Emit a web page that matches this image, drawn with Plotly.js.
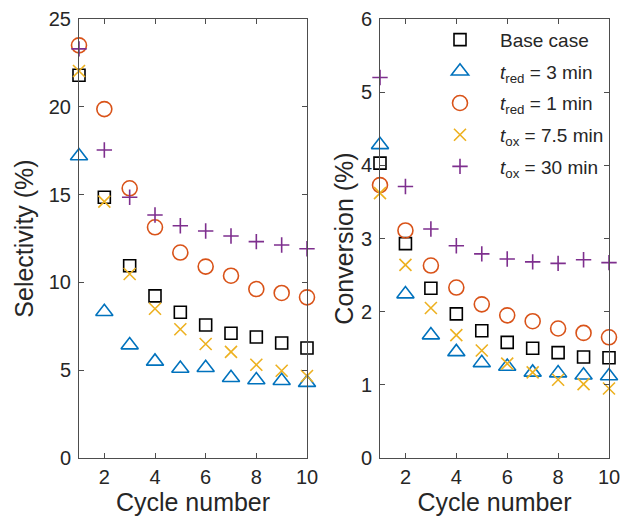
<!DOCTYPE html>
<html><head><meta charset="utf-8">
<script src="https://cdn.plot.ly/plotly-3.0.1.min.js"></script>
<style>html,body{margin:0;padding:0;background:#fff}#chart{width:622px;height:519px}</style>
</head><body><div id="chart"></div>
<script>
const cycles = [1,2,3,4,5,6,7,8,9,10];
const seriesNames = ['Base case','<i>t</i><sub>red</sub> = 3 min','<i>t</i><sub>red</sub> = 1 min','<i>t</i><sub>ox</sub> = 7.5 min','<i>t</i><sub>ox</sub> = 30 min'];
// Selectivity (%)
const selBase   = [21.8,14.85,10.95,9.23,8.3,7.57,7.1,6.89,6.55,6.26];
const selRed3   = [17.2,8.33,6.43,5.5,5.1,5.14,4.57,4.44,4.4,4.29];
const selRed1   = [23.5,19.87,15.36,13.14,11.7,10.9,10.38,9.62,9.4,9.15];
const selOx75   = [22.04,14.6,10.48,8.5,7.33,6.49,6.04,5.31,4.97,4.67];
const selOx30   = [23.3,17.54,14.85,13.84,13.23,12.93,12.64,12.32,12.13,11.92];
// Conversion (%)
const convBase  = [4.03,2.93,2.32,1.97,1.74,1.58,1.5,1.44,1.38,1.37];
const convRed3  = [4.28,2.24,1.68,1.45,1.3,1.25,1.17,1.16,1.13,1.12];
const convRed1  = [3.73,3.11,2.63,2.33,2.1,1.95,1.87,1.77,1.71,1.65];
const convOx75  = [3.62,2.64,2.05,1.68,1.47,1.29,1.17,1.07,1.01,0.95];
const convOx30  = [5.2,3.71,3.13,2.9,2.79,2.72,2.68,2.66,2.71,2.67];

const styles = [
  {symbol:'square-open', size:12, color:'#000000'},
  {symbol:'triangle-up-open', size:15, color:'#0072BD'},
  {symbol:'circle-open', size:15, color:'#D95319'},
  {symbol:'x-thin-open', size:12, color:'#EDB120'},
  {symbol:'cross-thin-open', size:11, color:'#7E2F8E'}
];
const selData = [selBase, selRed3, selRed1, selOx75, selOx30];
const convData = [convBase, convRed3, convRed1, convOx75, convOx30];
const traces = [];
selData.forEach((d,i)=>{
  traces.push({x:cycles, y:d, xaxis:'x', yaxis:'y', type:'scatter', mode:'markers', cliponaxis:false,
    showlegend:false, name:seriesNames[i], legendgroup:'g'+i,
    marker:{symbol:styles[i].symbol, size:styles[i].size, color:styles[i].color, line:{width:1.6, color:styles[i].color}}});
});
convData.forEach((d,i)=>{
  traces.push({x:cycles, y:d, xaxis:'x2', yaxis:'y2', type:'scatter', mode:'markers', cliponaxis:false,
    showlegend:true, name:seriesNames[i], legendgroup:'g'+i,
    marker:{symbol:styles[i].symbol, size:styles[i].size, color:styles[i].color, line:{width:1.6, color:styles[i].color}}});
});
const fnt = {family:'Liberation Sans, Arial, sans-serif', color:'#262626'};
const titleFont = Object.assign({size:25},fnt);
const axCommon = {showline:true, linecolor:'#4d4d4d', linewidth:1, mirror:'ticks', ticks:'inside', ticklen:5,
  tickcolor:'#4d4d4d', showgrid:false, zeroline:false, tickfont:Object.assign({size:20},fnt)};
const layout = {
  width:622, height:519, margin:{l:0,r:0,t:19,b:61}, paper_bgcolor:'#fff', plot_bgcolor:'#fff',
  font:fnt,
  xaxis:Object.assign({}, axCommon, {domain:[79/622, 307/622], range:[1,10], tickvals:[2,4,6,8,10], ticklabelstandoff:1,
    title:{text:'Cycle number', font:titleFont, standoff:4}, anchor:'y'}),
  yaxis:Object.assign({}, axCommon, {range:[0,25], tickvals:[0,5,10,15,20,25], ticklabelstandoff:3,
    title:{text:'Selectivity (%)', font:titleFont, standoff:8}, anchor:'x'}),
  xaxis2:Object.assign({}, axCommon, {domain:[380/622, 609/622], range:[1,10], tickvals:[2,4,6,8,10], ticklabelstandoff:1,
    title:{text:'Cycle number', font:titleFont, standoff:4}, anchor:'y2'}),
  yaxis2:Object.assign({}, axCommon, {range:[0,6], tickvals:[0,1,2,3,4,5,6], ticklabelstandoff:3,
    title:{text:'Conversion (%)', font:titleFont, standoff:0}, anchor:'x2'}),
  legend:{x:420/622, y:0.996, xref:'paper', yref:'paper', xanchor:'left', yanchor:'top', traceorder:'grouped',
    bgcolor:'rgba(0,0,0,0)', borderwidth:0, itemwidth:70, font:Object.assign({size:19},fnt), tracegroupgap:4}
};
Plotly.newPlot('chart', traces, layout, {staticPlot:true});
</script></body></html>
